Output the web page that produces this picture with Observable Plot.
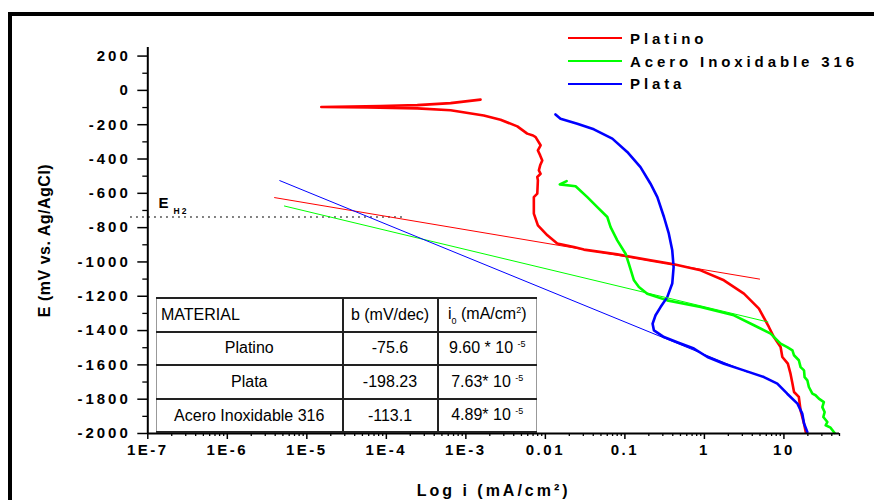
<!DOCTYPE html>
<html><head><meta charset="utf-8">
<script src="https://cdn.jsdelivr.net/npm/d3@7"></script>
<script src="https://cdn.jsdelivr.net/npm/@observablehq/plot@0.6"></script>
<style>
body{margin:0;width:874px;height:500px;overflow:hidden;background:#fff;position:relative;font-family:"Liberation Sans",Arial,sans-serif}
#frame{position:absolute;left:8px;top:12px;width:1000px;height:1000px;border-left:4px solid #000;border-top:4px solid #000;box-sizing:border-box}
#chart{position:absolute;left:0;top:0}
#legend{position:absolute;left:568px;top:27px}
.li{display:flex;align-items:center;height:22.7px;font-weight:bold;font-size:15px;letter-spacing:3.9px;color:#000}
.sw{width:54px;height:0;border-top:2px solid;margin-right:8px}
#tbl{position:absolute;left:156px;top:297px;width:380px;table-layout:fixed;border-collapse:collapse;background:#fff;font-size:16px;color:#000;border:1px solid #999}
#tbl td{border:2px solid #222;height:31.6px;padding:0;text-align:center;vertical-align:middle;white-space:nowrap;overflow:hidden}
#tbl tr:first-child td{border-top:1px solid #999}
#tbl td:first-child{border-left:1px solid #999}
#tbl td:last-child{border-right:1px solid #999}
#tbl sub,#tbl sup{font-size:9px}
</style>
</head><body>
<div id="frame"></div>
<div id="chart"></div>
<div id="legend"></div>
<table id="tbl"><colgroup><col style="width:186px"><col style="width:95px"><col style="width:99px"></colgroup></table>
<script>
// ---- data ----
const seriesNames = ["Platino", "Acero Inoxidable 316", "Plata"];
const seriesColors = ["#ff0000", "#00ff00", "#0000ff"];

const platinoI = [1.53e-3, 6.43e-4, 2.45e-4, 8.45e-5, 1.52e-5, 5.75e-5, 2.45e-4, 6.43e-4, 1.68e-3, 2.73e-3, 4.44e-3, 5.91e-3, 7.0e-3, 7.54e-3, 8.71e-3, 8.05e-3, 8.6e-3, 9.14e-3, 8.6e-3, 8.28e-3, 8.71e-3, 7.91e-3, 8.05e-3, 7.91e-3, 7.16e-3, 7.16e-3, 8.05e-3, 1.06e-2, 1.41e-2, 2.28e-2, 3.05e-2, 8.02e-2, 0.210, 0.413, 0.895, 1.76, 3.14, 4.85, 6.47, 7.48, 9.08, 9.55, 11.2, 12.1, 12.8, 13.4, 15.4, 16.2, 17.9, 18.8];
const platinoE = [-54, -74, -86, -91, -97, -99, -105, -116, -146, -171, -210, -252, -263, -272, -320, -350, -379, -408, -437, -466, -486, -505, -524, -602, -622, -718, -787, -845, -893, -913, -928, -956, -991, -1014, -1049, -1107, -1185, -1272, -1379, -1438, -1496, -1554, -1593, -1651, -1709, -1758, -1787, -1865, -1942, -1991];

const aceroI = [1.85e-2, 1.52e-2, 2.40e-2, 3.37e-2, 4.50e-2, 6.01e-2, 6.61e-2, 8.02e-2, 0.102, 0.112, 0.130, 0.150, 0.191, 0.341, 0.895, 2.35, 4.20, 6.81, 8.26, 9.08, 11.0, 12.8, 13.4, 15.4, 16.2, 17.9, 18.2, 19.7, 20.6, 22.8, 25.0, 27.5, 31.8, 30.4, 32.5, 31.3, 35.2, 33.5, 38.6, 43.4];
const aceroE = [-529, -548, -559, -622, -680, -738, -797, -874, -952, -1010, -1107, -1146, -1185, -1224, -1263, -1311, -1369, -1418, -1457, -1476, -1496, -1515, -1544, -1573, -1613, -1632, -1671, -1690, -1729, -1768, -1777, -1797, -1817, -1846, -1875, -1904, -1933, -1952, -1966, -1997];

const plataI = [1.34e-2, 1.55e-2, 2.52e-2, 4.07e-2, 6.95e-2, 0.107, 0.157, 0.210, 0.256, 0.310, 0.357, 0.394, 0.410, 0.394, 0.341, 0.281, 0.243, 0.223, 0.232, 0.310, 0.473, 0.738, 1.09, 1.76, 3.14, 5.60, 8.26, 11.0, 14.8, 17.0, 17.9, 19.7];
const plataE = [-140, -165, -194, -227, -281, -359, -447, -544, -622, -738, -835, -932, -1030, -1126, -1205, -1263, -1311, -1360, -1399, -1438, -1471, -1505, -1554, -1593, -1632, -1671, -1709, -1768, -1826, -1884, -1942, -1991];

// Tafel fit lines (start, end)
const platinoFitI = [3.93e-6, 4.94];
const platinoFitE = [-625, -1100];
const aceroFitI = [5.23e-6, 6.29];
const aceroFitE = [-674, -1350];
const plataFitI = [4.57e-6, 3.47];
const plataFitE = [-526, -1642];

// hydrogen equilibrium potential
const eH2 = -738;
const eH2Range = [6.05e-8, 1.64e-4];

// axes
const xMajorTicks = [1e-7, 1e-6, 1e-5, 1e-4, 1e-3, 0.01, 0.1, 1, 10];
const xTickLabels = ["1E-7", "1E-6", "1E-5", "1E-4", "1E-3", "0.01", "0.1", "1", "10"];
const yMajorTicks = [-2000, -1800, -1600, -1400, -1200, -1000, -800, -600, -400, -200, 0, 200];
const yMinorTicks = [-1900, -1700, -1500, -1300, -1100, -900, -700, -500, -300, -100, 100];

// table
const tableHeader = ["MATERIAL", "b (mV/dec)", "i<sub>0</sub> (mA/cm<sup>2</sup>)"];
const tableMaterial = ["Platino", "Plata", "Acero Inoxidable 316"];
const tableB = ["-75.6", "-198.23", "-113.1"];
const tableI0 = ["9.60 * 10 <sup>-5</sup>", "7.63* 10 <sup>-5</sup>", "4.89* 10 <sup>-5</sup>"];

// ---- build ----
const toRows = (I, E, s) => I.map((v, k) => ({i: v, E: E[k], s}));
const curves = [
  ...toRows(platinoI, platinoE, seriesNames[0]),
  ...toRows(aceroI, aceroE, seriesNames[1]),
  ...toRows(plataI, plataE, seriesNames[2])
];
const fits = [
  ...toRows(platinoFitI, platinoFitE, seriesNames[0]),
  ...toRows(aceroFitI, aceroFitE, seriesNames[1]),
  ...toRows(plataFitI, plataFitE, seriesNames[2])
];
const xMinorTicks = [];
for (const d of xMajorTicks) for (let m = 2; m <= 9; m++) if (m * d <= 50.0001) xMinorTicks.push(m * d);

const chart = Plot.plot({
  width: 874, height: 500,
  marginLeft: 147.3, marginRight: 35, marginTop: 47, marginBottom: 67,
  x: {type: "log", domain: [1e-7, 50]},
  y: {domain: [-2000, 250]},
  color: {domain: seriesNames, range: seriesColors},
  style: {fontFamily: "'Liberation Sans', Arial, sans-serif", color: "#000", background: "transparent", overflow: "visible"},
  marks: [
    Plot.axisX({ticks: xMinorTicks, tickSize: 3, tickFormat: () => "", label: null, strokeWidth: 1.3}),
    Plot.axisX({ticks: xMajorTicks, tickSize: 6, tickPadding: 5, strokeWidth: 1.5,
      tickFormat: d => xTickLabels[xMajorTicks.indexOf(d)], fontSize: 15, fontWeight: "bold",
      label: "Log i (mA/cm²)", labelAnchor: "center", labelArrow: "none", labelOffset: 62}),
    Plot.axisY({ticks: yMinorTicks, tickSize: 5, tickFormat: () => "", label: null, strokeWidth: 1.3}),
    Plot.axisY({ticks: yMajorTicks, tickSize: 10, tickPadding: 7, strokeWidth: 1.5,
      tickFormat: d => String(d), fontSize: 15, fontWeight: "bold",
      label: "E (mV vs. Ag/AgCl)", labelAnchor: "center", labelArrow: "none", labelOffset: 109}),
    Plot.ruleY([eH2], {x1: eH2Range[0], x2: eH2Range[1], stroke: "#000", strokeWidth: 1.2, strokeDasharray: "2,4"}),
    Plot.text([eH2], {y: d => d, frameAnchor: "left", dx: 10.7, dy: -13.5, text: () => "E", textAnchor: "start", fontSize: 15, fontWeight: "bold"}),
    Plot.text([eH2], {y: d => d, frameAnchor: "left", dx: 25.7, dy: -5.4, text: () => "H2", textAnchor: "start", fontSize: 8.5, fontWeight: "bold"}),
    Plot.line(curves, {x: "i", y: "E", z: "s", stroke: "s", strokeWidth: 2.6, curve: "linear"}),
    Plot.line(fits, {x: "i", y: "E", z: "s", stroke: "s", strokeWidth: 1}),
    Plot.ruleX([1e-7], {strokeWidth: 2}),
    Plot.ruleY([-2000], {strokeWidth: 2})
  ]
});
document.getElementById("chart").appendChild(chart);
const svg = d3.select(chart);
svg.selectAll('g[aria-label="y-axis tick label"] text').attr("letter-spacing", "3px");
svg.selectAll('g[aria-label="x-axis tick label"] text').attr("letter-spacing", "2.5px");
svg.selectAll('g[aria-label="x-axis label"] text').attr("letter-spacing", "3px").style("font-size", "16px").style("font-weight", "bold");
svg.selectAll('g[aria-label="y-axis label"] text').attr("letter-spacing", "0.5px").style("font-size", "16px").style("font-weight", "bold");
svg.selectAll('g[aria-label="text"] text').attr("letter-spacing", "2px");

// legend
const legend = d3.select("#legend");
seriesNames.forEach((n, k) => {
  const row = legend.append("div").attr("class", "li");
  row.append("div").attr("class", "sw").style("border-color", seriesColors[k]);
  row.append("span").text(n);
});

// table
const tbl = d3.select("#tbl");
const hr = tbl.append("tr");
tableHeader.forEach((h, k) => hr.append("td").style("text-align", k === 0 ? "left" : "center").style("padding-left", k === 0 ? "4px" : "0").html(h));
tableMaterial.forEach((m, r) => {
  const tr = tbl.append("tr");
  tr.append("td").text(m);
  tr.append("td").text(tableB[r]);
  tr.append("td").html(tableI0[r]);
});
</script>
</body></html>
